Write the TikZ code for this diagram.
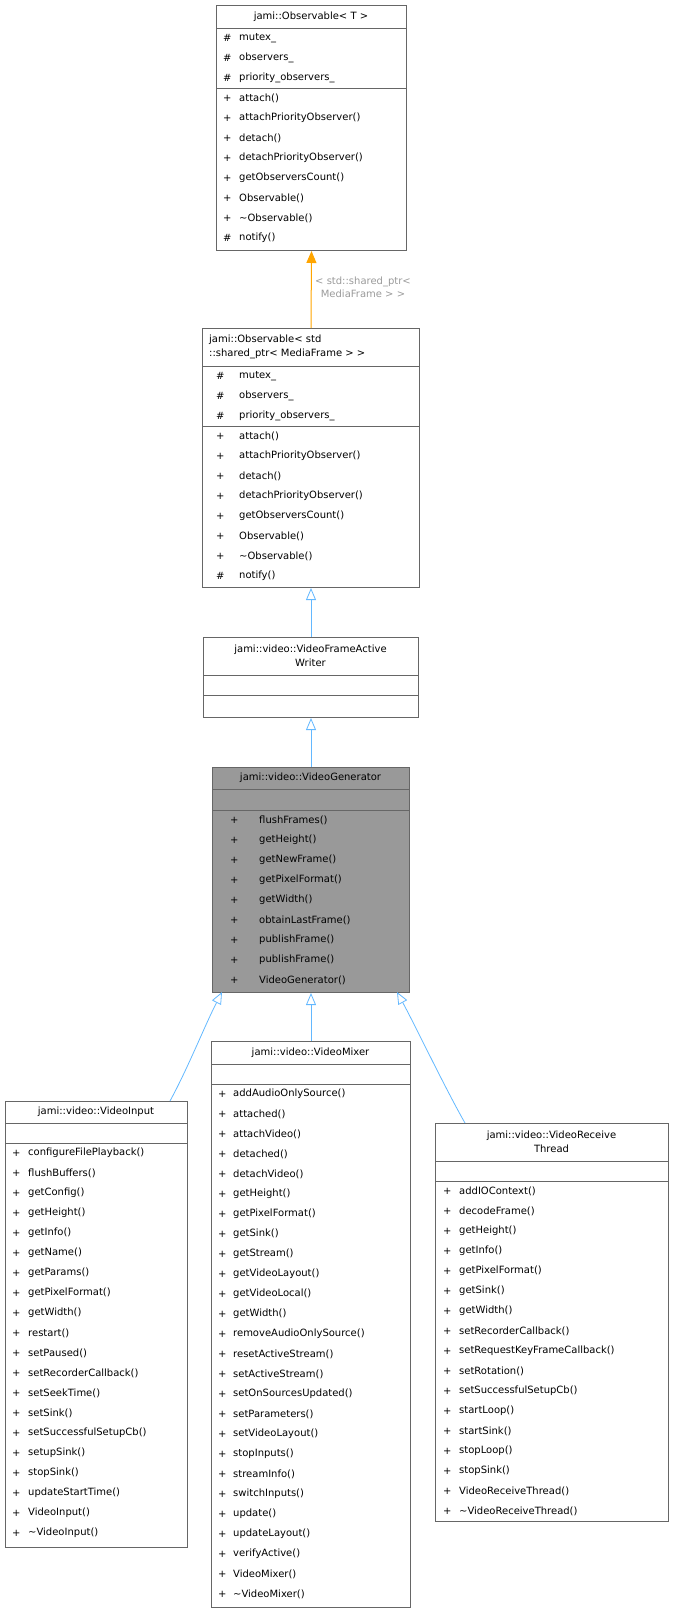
\documentclass[tikz,border=0pt]{standalone}
\usepackage{fontspec}
\setmainfont{DejaVu Sans}
\usetikzlibrary{arrows.meta}
\definecolor{bord}{HTML}{666666}
\definecolor{inhc}{HTML}{63B8FF}
\definecolor{tplc}{HTML}{FFA500}
\definecolor{lblc}{HTML}{9A9A9A}
\definecolor{gen}{HTML}{999999}
\newcommand\fs{\fontsize{10}{13.5}\selectfont}
\tikzset{
  box/.style={draw=bord, line width=1pt, fill=white, inner sep=0pt, anchor=north west},
  txt/.style={inner sep=0pt, anchor=west, font=\fs},
  ttl/.style={inner sep=0pt, align=center, font=\fs},
  sep/.style={draw=bord, line width=1pt},
  inh/.style={draw=inhc, line width=0.8pt, -{Triangle[open, length=12pt, width=10pt, fill=white]}},
  tpl/.style={draw=tplc, line width=1pt, -{Triangle[length=12pt, width=10pt]}}
}
\begin{document}
\begin{tikzpicture}[x=1pt,y=-1pt]
\useasboundingbox (0,0) rectangle (674,1612);
% Observable<T>
\node[box, minimum width=190pt, minimum height=245pt] (obsT) at (216,5) {};
\draw[sep] (216,28) -- (406,28) (216,88) -- (406,88);
\node[ttl] (obsTt) at (311,16.5) {jami::Observable< T >};
\foreach \s/\n [count=\i from 0] in {\#/mutex\_,\#/observers\_,\#/priority\_observers\_,+/attach(),+/attachPriorityObserver(),+/detach(),+/detachPriorityObserver(),+/getObserversCount(),+/Observable(),+/\textasciitilde Observable(),\#/notify()}
  {\node[txt] at (223,38+20*\i) {\s}; \node[txt] at (239,38+20*\i) {\n};}
% Observable<shared_ptr>
\node[box, minimum width=217pt, minimum height=259pt] (obsS) at (202,328) {};
\draw[sep] (202,366) -- (419,366) (202,426) -- (419,426);
\node[ttl, align=left, anchor=west] (obsSt) at (209,347) {jami::Observable< std\\::shared\_ptr< MediaFrame > >};
\foreach \s/\n [count=\i from 0] in {\#/mutex\_,\#/observers\_,\#/priority\_observers\_,+/attach(),+/attachPriorityObserver(),+/detach(),+/detachPriorityObserver(),+/getObserversCount(),+/Observable(),+/\textasciitilde Observable(),\#/notify()}
  {\node[txt] at (216,376+20*\i) {\s}; \node[txt] at (239,376+20*\i) {\n};}
% VideoFrameActiveWriter
\node[box, minimum width=215pt, minimum height=80pt] (vfaw) at (203,637) {};
\draw[sep] (203,675) -- (418,675) (203,695) -- (418,695);
\node[ttl] (vfawt) at (310.5,656) {jami::video::VideoFrameActive\\Writer};
% VideoGenerator
\node[box, fill=gen, minimum width=197pt, minimum height=225pt] (vg) at (212,767) {};
\draw[sep] (212,789) -- (409,789) (212,810) -- (409,810);
\node[ttl] (vgt) at (310.5,778) {jami::video::VideoGenerator};
\foreach \n [count=\i from 0] in {flushFrames(),getHeight(),getNewFrame(),getPixelFormat(),getWidth(),obtainLastFrame(),publishFrame(),publishFrame(),VideoGenerator()}
  {\node[txt] at (230,820+20*\i) {+}; \node[txt] at (259,820+20*\i) {\n};}
% VideoInput
\node[box, minimum width=182pt, minimum height=446pt] (vin) at (5,1101) {};
\draw[sep] (5,1123) -- (187,1123) (5,1143) -- (187,1143);
\node[ttl] (vint) at (96,1112) {jami::video::VideoInput};
\foreach \n [count=\i from 0] in {configureFilePlayback(),flushBuffers(),getConfig(),getHeight(),getInfo(),getName(),getParams(),getPixelFormat(),getWidth(),restart(),setPaused(),setRecorderCallback(),setSeekTime(),setSink(),setSuccessfulSetupCb(),setupSink(),stopSink(),updateStartTime(),VideoInput(),\textasciitilde VideoInput()}
  {\node[txt] at (12,1153+20*\i) {+}; \node[txt] at (28,1153+20*\i) {\n};}
% VideoMixer
\node[box, minimum width=199pt, minimum height=566pt] (vmx) at (211,1041) {};
\draw[sep] (211,1064) -- (410,1064) (211,1084) -- (410,1084);
\node[ttl] (vmxt) at (310.5,1052.5) {jami::video::VideoMixer};
\foreach \n [count=\i from 0] in {addAudioOnlySource(),attached(),attachVideo(),detached(),detachVideo(),getHeight(),getPixelFormat(),getSink(),getStream(),getVideoLayout(),getVideoLocal(),getWidth(),removeAudioOnlySource(),resetActiveStream(),setActiveStream(),setOnSourcesUpdated(),setParameters(),setVideoLayout(),stopInputs(),streamInfo(),switchInputs(),update(),updateLayout(),verifyActive(),VideoMixer(),\textasciitilde VideoMixer()}
  {\node[txt] at (218,1094+20*\i) {+}; \node[txt] at (233,1094+20*\i) {\n};}
% VideoReceiveThread
\node[box, minimum width=233pt, minimum height=398pt] (vrt) at (435,1123) {};
\draw[sep] (435,1161) -- (668,1161) (435,1181) -- (668,1181);
\node[ttl] (vrtt) at (551.5,1142) {jami::video::VideoReceive\\Thread};
\foreach \n [count=\i from 0] in {addIOContext(),decodeFrame(),getHeight(),getInfo(),getPixelFormat(),getSink(),getWidth(),setRecorderCallback(),setRequestKeyFrameCallback(),setRotation(),setSuccessfulSetupCb(),startLoop(),startSink(),stopLoop(),stopSink(),VideoReceiveThread(),\textasciitilde VideoReceiveThread()}
  {\node[txt] at (443,1191+20*\i) {+}; \node[txt] at (459,1191+20*\i) {\n};}
% connectors
\coordinate (vinT) at (170,1101);
\coordinate (vgL) at (222,992);
\coordinate (vrtT) at (465,1123);
\coordinate (vgR) at (397,992);
\draw[tpl] (obsS.north) -- (obsT.south);
\node[inner sep=0pt, align=center, font=\fs, text=lblc, anchor=west] (lbl) at (315,287.5) {< std::shared\_ptr<\\MediaFrame > >};
\draw[inh] (vfaw.north) -- (obsS.south);
\draw[inh] (vg.north) -- (vfaw.south);
\draw[inh] (vmx.north) -- (vg.south);
\draw[inh] (vinT) .. controls (188,1068) and (205,1025) .. (vgL);
\draw[inh] (vrtT) .. controls (445,1088) and (415,1025) .. (vgR);
\end{tikzpicture}
\end{document}
